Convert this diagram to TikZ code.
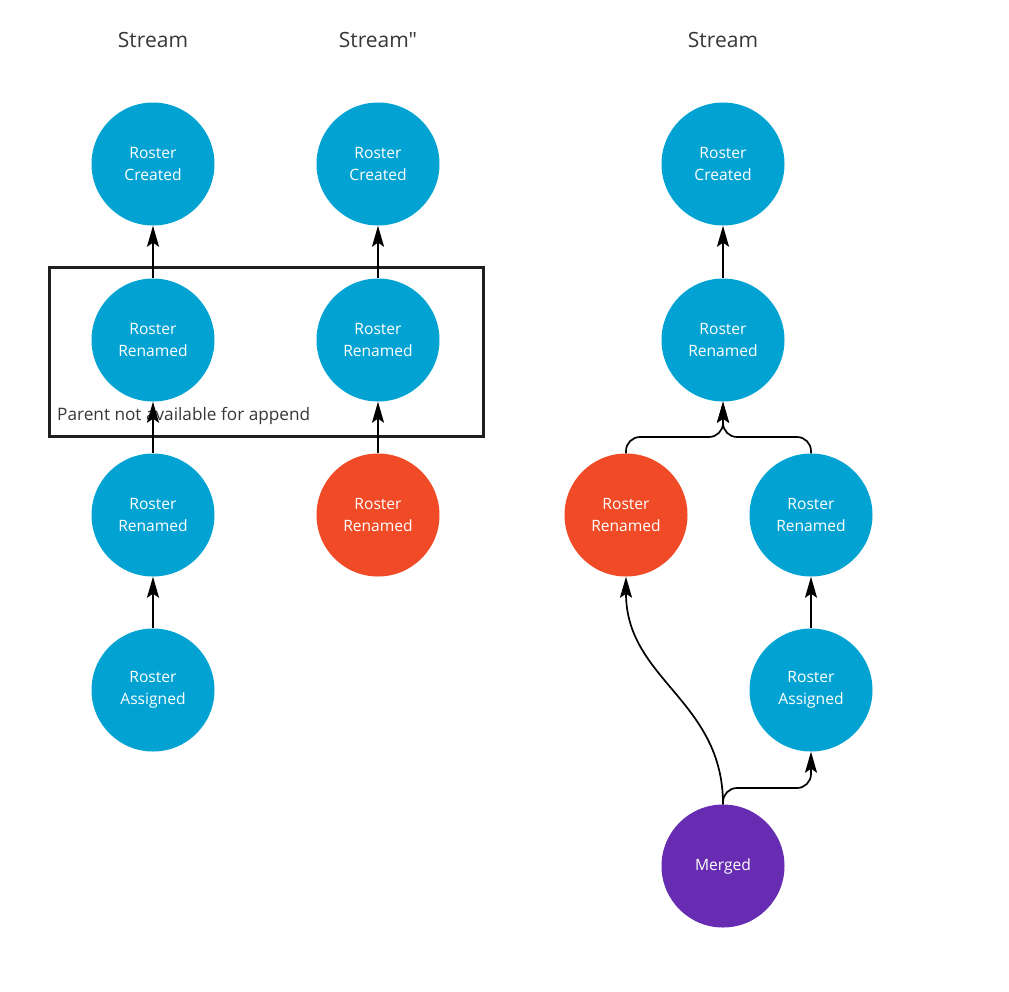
\documentclass[tikz,border=0pt]{standalone}
\usepackage{fontspec}
\setmainfont{Open Sans}
\newfontfamily\rawfont{Open Sans}[Ligatures=ResetAll]
\usetikzlibrary{arrows.meta}
\definecolor{evblue}{RGB}{2,163,211}
\definecolor{evred}{RGB}{240,74,38}
\definecolor{evpurple}{RGB}{104,44,178}
\definecolor{txtgray}{RGB}{55,55,55}
\tikzset{
  ev/.style={circle, minimum size=123pt, inner sep=0pt, text=white, align=center,
    font=\fontsize{15.6}{21.8}\selectfont, draw=none},
  evb/.style={ev, fill=evblue},
  evr/.style={ev, fill=evred},
  evp/.style={ev, fill=evpurple},
  title/.style={font=\rawfont\fontsize{21}{25}\selectfont, text=txtgray},
  link/.style={draw=black, line width=1.7pt, -{Stealth[length=21pt,width=12pt,inset=4pt]}},
}
\begin{document}
\begin{tikzpicture}[x=1pt,y=-1pt]
\useasboundingbox (0,0) rectangle (1009,991);
% titles
\node[title] (t1) at (153,40) {Stream};
\node[title] (t2) at (378,40) {Stream"};
\node[title] (t3) at (723,40) {Stream};
% column 1
\node[evb] (a1) at (153,164) {Roster\\Created};
\node[evb] (a2) at (153,340) {Roster\\Renamed};
\node[evb] (a3) at (153,515) {Roster\\Renamed};
\node[evb] (a4) at (153,690) {Roster\\Assigned};
% column 2
\node[evb] (b1) at (378,164) {Roster\\Created};
\node[evb] (b2) at (378,340) {Roster\\Renamed};
\node[evr] (b3) at (378,515) {Roster\\Renamed};
% column 3
\node[evb] (c1) at (723,164) {Roster\\Created};
\node[evb] (c2) at (723,340) {Roster\\Renamed};
\node[evr] (c3) at (626,515) {Roster\\Renamed};
\node[evb] (c4) at (811,515) {Roster\\Renamed};
\node[evb] (c5) at (811,690) {Roster\\Assigned};
\node[evp] (c6) at (723,866) {Merged};
% box
\draw[line width=3pt, draw=black!88] (49,267) rectangle (483,436);
\node[anchor=west, text=txtgray, font=\fontsize{17.2}{20}\selectfont, inner sep=0pt] (lbl) at (57,416) {Parent not available for append};
% arrows
\draw[link] (a2.north) -- (a1.south);
\draw[link] (a3.north) -- (a2.south);
\draw[link] (a4.north) -- (a3.south);
\draw[link] (b2.north) -- (b1.south);
\draw[link] (b3.north) -- (b2.south);
\draw[link] (c2.north) -- (c1.south);
\draw[link] (c5.north) -- (c4.south);
\draw[link, rounded corners=14pt] (c3.north) -- (626,437) -- (723,437) -- (c2.south);
\draw[link, rounded corners=14pt] (c4.north) -- (811,437) -- (723,437) -- (c2.south);
\draw[link] (c6.north) .. controls (723,700) and (626,680) .. (c3.south);
\draw[link, rounded corners=14pt] (c6.north) -- (723,788) -- (811,788) -- (c5.south);
\end{tikzpicture}
\end{document}
